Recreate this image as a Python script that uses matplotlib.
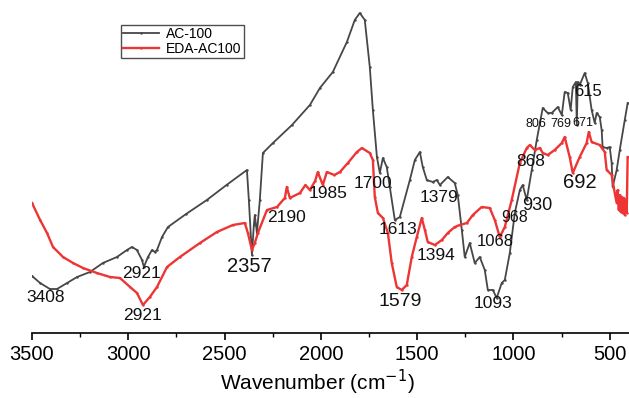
import matplotlib
matplotlib.use("Agg")
import matplotlib.pyplot as plt
from matplotlib.ticker import MultipleLocator

plt.rcParams['font.family'] = ['Liberation Sans', 'DejaVu Sans']

# AC-100 spectrum (wavenumber, arbitrary intensity)
ac_wn = [3500, 3458, 3407, 3370, 3318, 3266, 3199, 3132, 3059, 3007, 2981, 2955,
         2929, 2919, 2898, 2877, 2862, 2851, 2825, 2794, 2700, 2592, 2490, 2384,
         2374, 2358, 2348, 2343, 2332, 2317, 2301, 2249, 2150, 2057, 2005, 1938,
         1865, 1824, 1798, 1772, 1746, 1730, 1709, 1694, 1678, 1658, 1642, 1616,
         1590, 1538, 1512, 1486, 1471, 1450, 1419, 1398, 1382, 1341, 1305, 1289,
         1268, 1253, 1227, 1201, 1175, 1149, 1133, 1107, 1087, 1061, 1045, 1019,
         993, 967, 952, 931, 905, 879, 848, 822, 801, 770, 749, 734, 718, 703,
         692, 676, 671, 666, 656, 630, 614, 594, 578, 568, 552, 542, 537, 516,
         500, 490, 485, 464, 448, 422, 407]
ac_val = [57, 50, 44, 44, 50, 56, 61, 70, 76, 83, 86, 83,
          73, 66, 76, 83, 81, 83, 96, 106, 119, 133, 148, 163,
          133, 78, 108, 118, 100, 133, 180, 190, 208, 228, 245, 261,
          291, 313, 320, 313, 266, 223, 176, 160, 175, 166, 146, 113,
          116, 153, 173, 181, 166, 153, 151, 153, 148, 156, 150, 138,
          103, 76, 90, 70, 76, 63, 43, 43, 35, 50, 53, 80,
          120, 143, 148, 133, 163, 193, 225, 220, 220, 226, 218, 241, 240, 223,
          246, 251, 208, 251, 248, 260, 250, 223, 210, 220, 216, 203, 186, 185,
          186, 170, 146, 163, 183, 213, 230]

# EDA-AC100 spectrum
eda_wn = [3500, 3458, 3422, 3391, 3339, 3287, 3235, 3163, 3095, 3043, 2991, 2955,
          2924, 2888, 2851, 2799, 2732, 2628, 2540, 2457, 2395, 2379, 2358, 2343,
          2327, 2280, 2228, 2187, 2177, 2161, 2109, 2080, 2057, 2030, 2016, 1990,
          1969, 1930, 1901, 1860, 1813, 1787, 1746, 1730, 1720, 1704, 1678, 1652,
          1632, 1606, 1580, 1554, 1528, 1502, 1476, 1460, 1445, 1408, 1372, 1341,
          1305, 1279, 1242, 1211, 1165, 1123, 1097, 1071, 1045, 1009, 967, 931,
          915, 889, 863, 848, 822, 786, 749, 734, 708, 692, 656, 620,
          609, 594, 552, 526, 516, 490, 474, 464, 459, 453, 448, 443,
          438, 433, 427, 422, 417, 412, 407]
eda_val = [130, 113, 100, 86, 76, 70, 65, 60, 56, 55, 46, 40,
           28, 36, 46, 66, 76, 90, 101, 108, 110, 100, 83, 90,
           100, 123, 126, 135, 146, 135, 140, 148, 143, 152, 161, 148,
           161, 158, 161, 170, 181, 185, 180, 173, 136, 120, 115, 100,
           70, 46, 43, 48, 76, 96, 115, 103, 91, 88, 93, 100,
           106, 108, 110, 118, 126, 125, 113, 96, 106, 133, 170, 185,
           188, 183, 185, 180, 178, 183, 190, 196, 176, 160, 176, 190,
           201, 191, 188, 181, 163, 158, 140, 130, 143, 123, 138, 121,
           136, 120, 135, 118, 133, 120, 176]

# peak labels: (text, wavenumber, intensity, fontsize)
peak_text = ['3408', '2921', '2921', '2357', '2190', '1985', '1700', '1613', '1379',
             '1394', '1579', '1093', '1068', '968', '930', '868', '692', '615',
             '806', '769', '671']
peak_wn = [3427, 2934, 2924, 2374, 2177, 1964, 1730, 1600, 1388,
           1403, 1590, 1107, 1097, 993, 874, 910, 656, 614,
           884, 754, 640]
peak_val = [36, 59, 17, 67, 116, 139, 150, 103, 135,
            78, 32, 30, 92, 116, 128, 172, 151, 241,
            209, 209, 210]
peak_size = [12.5, 12.5, 12.5, 14.5, 12.5, 12.5, 12.5, 12.5, 12.5,
             12.5, 14, 12.5, 12, 11.5, 13, 12.5, 14.5, 12,
             9, 9, 9]

fig = plt.figure(figsize=(6.29, 3.98), dpi=100)
ax = fig.add_axes([32 / 629, 65 / 398, 597 / 629, 333 / 398])

ax.plot(ac_wn, ac_val, color='#474747', lw=1.3, marker='.', markersize=1.5,
        label='AC-100')
ax.plot(eda_wn, eda_val, color='#ee3535', lw=1.7, marker='.', markersize=1.5,
        label='EDA-AC100')

for t, w, v, s in zip(peak_text, peak_wn, peak_val, peak_size):
    ax.text(w, v, t, fontsize=s, ha='center', va='center', color='#111111')

ax.set_xlim(3500, 400)
ax.set_ylim(0, 333)
ax.xaxis.set_major_locator(MultipleLocator(500))
ax.xaxis.set_minor_locator(MultipleLocator(250))
ax.tick_params(axis='x', which='major', direction='out', length=5, width=1.2,
               labelsize=14.5, pad=3.5)
ax.tick_params(axis='x', which='minor', direction='out', length=3, width=1.0)
ax.set_yticks([])
for side in ['left', 'right', 'top']:
    ax.spines[side].set_visible(False)
ax.spines['bottom'].set_linewidth(1.2)

ax.set_xlabel('Wavenumber (cm$^{-1}$)', fontsize=15, va='center')
ax.xaxis.set_label_coords((317 - 32) / 597, -0.148)

leg = ax.legend(loc='upper left', bbox_to_anchor=(0.149, 0.925), fontsize=10,
                frameon=True, fancybox=False, edgecolor='#222222',
                borderpad=0.15, labelspacing=0.05, handlelength=2.6,
                handletextpad=0.5, borderaxespad=0)
leg.get_frame().set_linewidth(1.0)

fig.savefig('out.png', dpi=100)
